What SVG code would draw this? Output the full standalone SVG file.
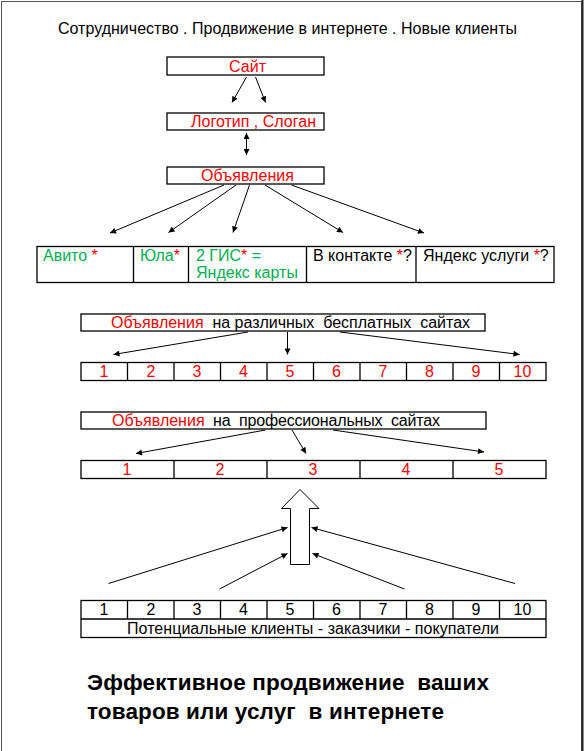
<svg xmlns="http://www.w3.org/2000/svg" width="584" height="751" viewBox="0 0 584 751">
<defs>
<marker id="ah" viewBox="0 0 10 10" refX="10" refY="5" markerWidth="8" markerHeight="6" markerUnits="userSpaceOnUse" orient="auto-start-reverse">
<path d="M0,0 L10,5 L0,10 z" fill="#000"/>
</marker>
<style>
text{font-family:"Liberation Sans",Arial,sans-serif;font-size:16px;fill:#000;white-space:pre}
.r{fill:#FF0000}
.g{fill:#00B050}
.k{fill:#000}
.box{fill:#fff;stroke:#000;stroke-width:1.3}
.ln{stroke:#000;stroke-width:1;fill:none;marker-end:url(#ah)}
.c{text-anchor:middle}
.b{font-weight:bold;font-size:22.5px}
</style>
</defs>
<rect x="0" y="0" width="584" height="751" fill="#fff"/>
<rect x="1.5" y="1.5" width="580" height="760" fill="none" stroke="#555" stroke-width="1"/>
<line x1="582.5" y1="0" x2="582.5" y2="751" stroke="#222" stroke-width="2"/>

<g id="title"><text x="58" y="34" textLength="459" font-size="16">Сотрудничество . Продвижение в интернете . Новые клиенты</text></g>

<g id="site"><rect class="box" x="167" y="57" width="157" height="18"/><text class="r" x="229" y="72" textLength="37">Сайт</text></g>
<g id="logo"><rect class="box" x="167" y="113" width="157" height="17"/><text class="r" x="191" y="127" textLength="125">Логотип , Слоган</text></g>
<g id="ads"><rect class="box" x="167" y="167" width="157" height="17"/><text class="r" x="201" y="181" textLength="93">Объявления</text></g>

<g id="platforms">
<rect class="box" x="37" y="246.5" width="517" height="36"/>
<line x1="133.5" y1="246.5" x2="133.5" y2="282.5" stroke="#000" stroke-width="1.3"/>
<line x1="188.5" y1="246.5" x2="188.5" y2="282.5" stroke="#000" stroke-width="1.3"/>
<line x1="306.5" y1="246.5" x2="306.5" y2="282.5" stroke="#000" stroke-width="1.3"/>
<line x1="416" y1="246.5" x2="416" y2="282.5" stroke="#000" stroke-width="1.3"/>
<g id="avito"><text x="43" y="261" xml:space="preserve"><tspan class="g">Авито </tspan><tspan class="r">*</tspan></text></g>
<g id="yula"><text x="140" y="261"><tspan class="g">Юла</tspan><tspan class="r">*</tspan></text></g>
<g id="gis"><text x="196" y="261" xml:space="preserve"><tspan class="g">2 ГИС</tspan><tspan class="r">*</tspan><tspan class="g"> =</tspan></text><text class="g" x="196" y="278">Яндекс карты</text></g>
<g id="vk"><text x="313" y="261" xml:space="preserve">В контакте <tspan class="r">*</tspan>?</text></g>
<g id="yandex"><text x="423" y="261" xml:space="preserve">Яндекс услуги <tspan class="r">*</tspan>?</text></g>
</g>

<g id="free-ads"><rect class="box" x="81" y="314" width="404" height="17"/><text x="111" y="327.5" xml:space="preserve"><tspan class="r">Объявления</tspan>  <tspan>на различных  бесплатных  сайтах</tspan></text></g>

<g id="free-row">
<rect class="box" x="81" y="362.5" width="465" height="18"/>
<g stroke="#000" stroke-width="1.3">
<line x1="127.5" y1="362.5" x2="127.5" y2="380.5"/><line x1="174" y1="362.5" x2="174" y2="380.5"/><line x1="220.5" y1="362.5" x2="220.5" y2="380.5"/><line x1="267" y1="362.5" x2="267" y2="380.5"/><line x1="313.5" y1="362.5" x2="313.5" y2="380.5"/><line x1="360" y1="362.5" x2="360" y2="380.5"/><line x1="406.5" y1="362.5" x2="406.5" y2="380.5"/><line x1="453" y1="362.5" x2="453" y2="380.5"/><line x1="499.5" y1="362.5" x2="499.5" y2="380.5"/>
</g>
<text class="r c" x="104" y="377">1</text><text class="r c" x="151" y="377">2</text><text class="r c" x="197" y="377">3</text><text class="r c" x="243.5" y="377">4</text><text class="r c" x="290" y="377">5</text><text class="r c" x="336.5" y="377">6</text><text class="r c" x="383" y="377">7</text><text class="r c" x="429.5" y="377">8</text><text class="r c" x="476" y="377">9</text><text class="r c" x="522.5" y="377">10</text>
</g>

<g id="pro-ads"><rect class="box" x="81" y="412" width="405" height="17"/><text x="112" y="425.5" xml:space="preserve"><tspan class="r">Объявления</tspan>  <tspan x="213" textLength="227">на  профессиональных  сайтах</tspan></text></g>

<g id="pro-row">
<rect class="box" x="81" y="460.5" width="465" height="18"/>
<g stroke="#000" stroke-width="1.3">
<line x1="174" y1="460.5" x2="174" y2="478.5"/><line x1="267" y1="460.5" x2="267" y2="478.5"/><line x1="360" y1="460.5" x2="360" y2="478.5"/><line x1="453" y1="460.5" x2="453" y2="478.5"/>
</g>
<text class="r c" x="127" y="475">1</text><text class="r c" x="220" y="475">2</text><text class="r c" x="313" y="475">3</text><text class="r c" x="406" y="475">4</text><text class="r c" x="499" y="475">5</text>
</g>

<g id="big-arrow"><path d="M300,489.5 L319,508.5 L309.5,508.5 L309.5,564.5 L290.5,564.5 L290.5,508.5 L281.5,508.5 Z" fill="#fff" stroke="#000" stroke-width="1"/></g>

<g id="clients">
<rect class="box" x="81" y="600.5" width="465" height="37"/>
<line x1="81" y1="619" x2="546" y2="619" stroke="#000" stroke-width="1.3"/>
<g stroke="#000" stroke-width="1.3">
<line x1="127.5" y1="600.5" x2="127.5" y2="619"/><line x1="174" y1="600.5" x2="174" y2="619"/><line x1="220.5" y1="600.5" x2="220.5" y2="619"/><line x1="267" y1="600.5" x2="267" y2="619"/><line x1="313.5" y1="600.5" x2="313.5" y2="619"/><line x1="360" y1="600.5" x2="360" y2="619"/><line x1="406.5" y1="600.5" x2="406.5" y2="619"/><line x1="453" y1="600.5" x2="453" y2="619"/><line x1="499.5" y1="600.5" x2="499.5" y2="619"/>
</g>
<text class="c" x="104" y="615">1</text><text class="c" x="151" y="615">2</text><text class="c" x="197" y="615">3</text><text class="c" x="243.5" y="615">4</text><text class="c" x="290" y="615">5</text><text class="c" x="336.5" y="615">6</text><text class="c" x="383" y="615">7</text><text class="c" x="429.5" y="615">8</text><text class="c" x="476" y="615">9</text><text class="c" x="522.5" y="615">10</text>
<text x="127" y="633.5" textLength="372">Потенциальные клиенты - заказчики - покупатели</text>
</g>

<g id="slogan">
<text class="b" x="87" y="690" textLength="402" xml:space="preserve">Эффективное продвижение  ваших</text>
<text class="b" x="87" y="719" textLength="357" xml:space="preserve">товаров или услуг  в интернете</text>
</g>

<g id="connectors">
<line class="ln" x1="246.5" y1="77" x2="232" y2="102.5"/>
<line class="ln" x1="255.5" y1="77" x2="265.5" y2="102.5"/>
<line class="ln" x1="246.5" y1="133" x2="246.5" y2="155" style="marker-start:url(#ah)"/>
<line class="ln" x1="224" y1="185" x2="110" y2="233"/>
<line class="ln" x1="236" y1="185" x2="168.5" y2="232.5"/>
<line class="ln" x1="249.5" y1="185" x2="233" y2="232.5"/>
<line class="ln" x1="265" y1="185" x2="343" y2="232.5"/>
<line class="ln" x1="291.5" y1="185" x2="424" y2="233"/>
<line class="ln" x1="248" y1="332" x2="113.5" y2="354.5"/>
<line class="ln" x1="287.5" y1="332" x2="287.5" y2="354.5"/>
<line class="ln" x1="340" y1="332" x2="519.5" y2="354.5"/>
<line class="ln" x1="265.5" y1="430" x2="136" y2="453.5"/>
<line class="ln" x1="292" y1="430" x2="306" y2="453.5"/>
<line class="ln" x1="333" y1="430" x2="484" y2="452"/>
<line class="ln" x1="108.5" y1="583.5" x2="287.5" y2="527.5"/>
<line class="ln" x1="219.5" y1="589" x2="287.5" y2="553.5"/>
<line class="ln" x1="404.5" y1="589" x2="312.5" y2="553.5"/>
<line class="ln" x1="515" y1="583.5" x2="311.5" y2="527.5"/>
</g>
</svg>
